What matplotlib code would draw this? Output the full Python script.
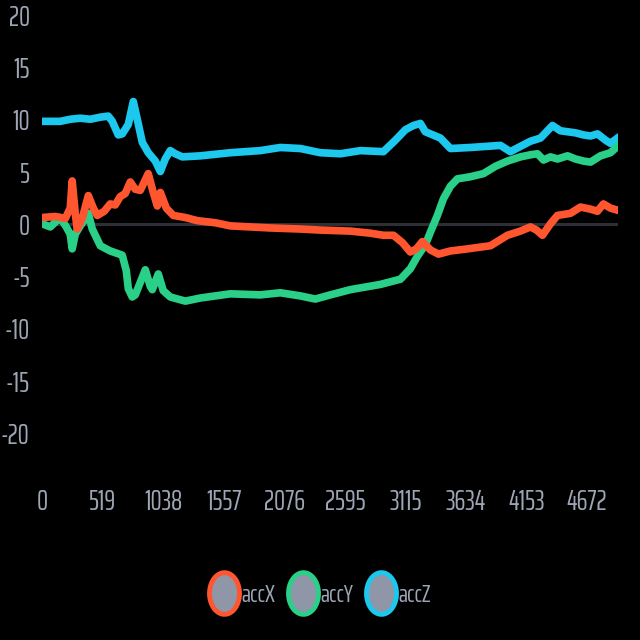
import numpy as np
import matplotlib
matplotlib.use('Agg')
import matplotlib.pyplot as plt
from matplotlib.path import Path
from matplotlib.lines import Line2D

# sample index / value pairs
x_accX = [0, 112, 197, 240, 257, 283, 300, 343, 395, 438, 472, 532, 583, 626, 669, 712,
          755, 798, 841, 909, 952, 987, 1013, 1064, 1124, 1227, 1330, 1484, 1613, 1785,
          1956, 2214, 2385, 2643, 2814, 2926, 3012, 3089, 3157, 3209, 3260, 3329, 3398,
          3501, 3647, 3844, 3990, 4101, 4187, 4239, 4290, 4359, 4419, 4530, 4616, 4702,
          4762, 4813, 4873, 4934]
accX = [0.6, 0.7, 0.5, 1.5, 4.1, 1.0, -0.5, 0.5, 2.7, 1.5, 0.8, 1.2, 1.9, 1.8, 2.6, 2.9,
        4.0, 3.3, 3.2, 4.8, 3.0, 1.7, 3.0, 1.5, 0.8, 0.6, 0.3, 0.1, -0.2, -0.3,
        -0.4, -0.5, -0.6, -0.7, -0.9, -1.1, -1.1, -1.8, -2.7, -2.4, -1.7, -2.5, -2.9,
        -2.6, -2.4, -2.1, -1.1, -0.7, -0.3, -0.6, -1.1, 0.0, 0.8, 1.0, 1.6, 1.4,
        1.2, 1.9, 1.5, 1.3]

x_accY = [0, 69, 154, 206, 240, 257, 283, 326, 369, 395, 429, 498, 583, 686, 721, 738,
          772, 798, 841, 884, 927, 944, 995, 1038, 1098, 1227, 1356, 1613, 1870, 2042,
          2214, 2342, 2471, 2643, 2900, 3072, 3157, 3218, 3286, 3329, 3389, 3441, 3501,
          3561, 3672, 3784, 3887, 3990, 4101, 4187, 4247, 4299, 4359, 4419, 4505, 4573,
          4642, 4702, 4788, 4873, 4934]
accY = [0.0, -0.3, 0.6, -0.3, -1.0, -2.4, -1.0, -0.2, 0.5, 1.0, -0.5, -2.1, -2.6, -3.0, -4.5, -6.2,
        -7.0, -6.8, -5.6, -4.4, -6.0, -6.3, -4.8, -6.4, -7.0, -7.4, -7.1, -6.7, -6.8, -6.6,
        -6.9, -7.2, -6.8, -6.3, -5.8, -5.3, -4.3, -3.1, -2.0, -0.8, 0.8, 2.4, 3.6,
        4.3, 4.5, 4.8, 5.5, 6.0, 6.4, 6.6, 6.7, 6.1, 6.4, 6.2, 6.5, 6.2,
        6.0, 5.9, 6.5, 6.8, 7.4]

x_accZ = [0, 154, 240, 326, 412, 498, 566, 601, 652, 686, 738, 781, 815, 858, 909, 970,
          1013, 1055, 1098, 1141, 1201, 1356, 1613, 1870, 2042, 2214, 2385, 2557, 2728,
          2926, 3029, 3115, 3183, 3243, 3286, 3329, 3415, 3501, 3672, 3801, 3930, 4015,
          4101, 4187, 4273, 4376, 4444, 4573, 4642, 4702, 4762, 4831, 4873, 4934]
accZ = [9.8, 9.8, 10.0, 10.1, 10.0, 10.2, 10.3, 9.8, 8.5, 8.6, 9.5, 11.7, 10.0, 7.8, 6.8, 6.0,
        5.0, 6.2, 7.0, 6.7, 6.4, 6.5, 6.8, 7.0, 7.3, 7.2, 6.8, 6.7, 7.0,
        6.9, 8.0, 9.0, 9.4, 9.6, 8.8, 8.6, 8.2, 7.2, 7.3, 7.4, 7.5, 6.9,
        7.4, 7.9, 8.2, 9.4, 8.9, 8.7, 8.5, 8.4, 8.6, 8.0, 7.7, 8.2]

x_ticks = [0, 519, 1038, 1557, 2076, 2595, 3115, 3634, 4153, 4672]
y_ticks = [-20, -15, -10, -5, 0, 5, 10, 15, 20]
names = ['accX', 'accY', 'accZ']
colors = ['#ff5630', '#2bd088', '#1cc8ee']

font = ['Saira ExtraCondensed', 'DejaVu Sans']
txt_color = '#9ea6b6'

fig = plt.figure(figsize=(6.4, 6.4), dpi=100, facecolor='black')
ax = fig.add_axes([0.066, 0.242, 0.9, 0.735], facecolor='black')

ax.axhline(0, color='#2c2f36', lw=2.2, zorder=1)
ax.plot(x_accZ, accZ, color=colors[2], lw=5.5, zorder=2)
ax.plot(x_accY, accY, color=colors[1], lw=5.5, zorder=3)
ax.plot(x_accX, accX, color=colors[0], lw=5.5, zorder=4)

ax.set_xlim(0, 4940)
ax.set_ylim(-25, 20)
ax.set_xticks(x_ticks)
ax.set_yticks(y_ticks)
ax.set_xticklabels([str(t) for t in x_ticks], family=font, fontsize=20, color=txt_color)
ax.set_yticklabels([str(t) for t in y_ticks], family=font, fontsize=20, color=txt_color)
ax.tick_params(axis='both', length=0)
ax.tick_params(axis='y', pad=9)
ax.tick_params(axis='x', pad=2)
for s in ax.spines.values():
    s.set_visible(False)

# tall ellipse marker like the squeezed legend symbols
t = np.linspace(0, 2 * np.pi, 60)
ell = Path(np.column_stack([0.72 * np.cos(t), np.sin(t)]), closed=True)
handles = [Line2D([], [], ls='none', marker=ell, markersize=30, markerfacecolor='#8e96a8',
                  markeredgecolor=c, markeredgewidth=3.5) for c in colors]
fig.legend(handles, names, loc='center', bbox_to_anchor=(0.5, 0.07), ncol=3, frameon=False,
           handletextpad=0.1, columnspacing=0.5, handlelength=1.2,
           prop={'family': font, 'size': 18}, labelcolor=txt_color)

fig.savefig('out.png', dpi=100, facecolor='black')
